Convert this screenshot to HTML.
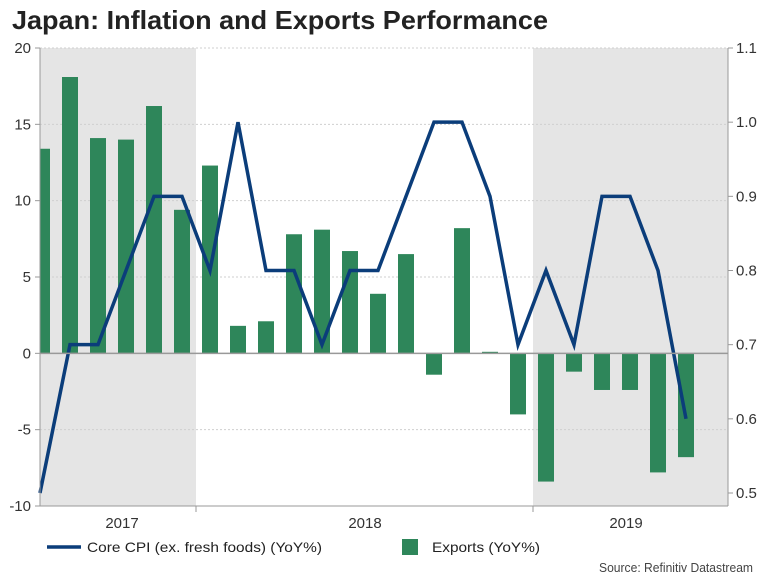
<!DOCTYPE html>
<html><head><meta charset="utf-8"><style>
body{margin:0;background:#fff;font-family:"Liberation Sans",sans-serif;}
#c{position:relative;width:768px;height:576px;overflow:hidden;}
</style></head><body>
<div id="c">
<svg id="s" width="768" height="576" xmlns="http://www.w3.org/2000/svg">
<text x="12" y="29" font-size="26" font-weight="bold" fill="#222" textLength="536" lengthAdjust="spacingAndGlyphs">Japan: Inflation and Exports Performance</text>
<g id="bg"></g><g id="grid"></g><g id="bars"></g><g id="line"></g><g id="axes"></g>
<g>
<line x1="47" y1="547" x2="81" y2="547" stroke="#0b3d7a" stroke-width="3.5"/>
<text x="87" y="552" font-size="14" fill="#222" textLength="235" lengthAdjust="spacingAndGlyphs">Core CPI (ex. fresh foods) (YoY%)</text>
<rect x="402" y="539" width="16" height="16" fill="#2e865a"/>
<text x="432" y="552" font-size="14" fill="#222" textLength="108" lengthAdjust="spacingAndGlyphs">Exports (YoY%)</text>
</g>
<text x="599" y="572" font-size="13" fill="#444" textLength="154" lengthAdjust="spacingAndGlyphs">Source: Refinitiv Datastream</text>
</svg></div>
<script>
const exportsVals=[13.4,18.1,14.1,14.0,16.2,9.4,12.3,1.8,2.1,7.8,8.1,6.7,3.9,6.5,-1.4,8.2,0.1,-4.0,-8.4,-1.2,-2.4,-2.4,-7.8,-6.8];
const cpiVals=[0.5,0.7,0.7,0.8,0.9,0.9,0.8,1.0,0.8,0.8,0.7,0.8,0.8,0.9,1.0,1.0,0.9,0.7,0.8,0.7,0.9,0.9,0.8,0.6];
const leftTicks=[20,15,10,5,0,-5,-10];
const rightTicks=[1.1,1.0,0.9,0.8,0.7,0.6,0.5];
const yearLabels=["2017","2018","2019"];
const NS="http://www.w3.org/2000/svg";
const L=40,R=728,T=48,B=506;
const xAt=i=>42+i*28;
const yL=v=>T+(20-v)*(B-T)/30;
const yR=v=>T+(1.1-v)*(493-T)/0.6;
function mk(tag,attrs,parent){const e=document.createElementNS(NS,tag);for(const k in attrs)e.setAttribute(k,attrs[k]);document.getElementById(parent).appendChild(e);return e;}
let e=mk('rect',{x:L,y:T,width:196-L,height:B-T,fill:'#e5e5e5'},'bg');


e=mk('rect',{x:533,y:T,width:R-533,height:B-T,fill:'#e5e5e5'},'bg');


leftTicks.forEach(t=>{
 const y=yL(t);
 if(t!==0&&t!==-10){const g=mk('line',{x1:L,x2:R,y1:y,y2:y,stroke:'#cfcfcf','stroke-dasharray':'2,2','stroke-width':1},'grid');
 
 }
 const tx=mk('text',{x:31,y:y+5,'font-size':15,fill:'#333','text-anchor':'end'},'axes');tx.textContent=t;
 
 
});
const cp=document.createElementNS(NS,'clipPath');cp.setAttribute('id','cl');
const cr=document.createElementNS(NS,'rect');cr.setAttribute('x',L);cr.setAttribute('y',0);cr.setAttribute('width',R-L);cr.setAttribute('height',576);cp.appendChild(cr);
document.getElementById('s').appendChild(cp);
document.getElementById('bars').setAttribute('clip-path','url(#cl)');
exportsVals.forEach((v,i)=>{
 const y0=yL(0),y1=yL(v);
 const r=mk('rect',{x:xAt(i)-8,y:Math.min(y0,y1),width:16,height:Math.max(1,Math.abs(y1-y0)),fill:'#2e865a'},'bars');
 
 
});
let z=mk('line',{x1:L,x2:R,y1:yL(0),y2:yL(0),stroke:'#999','stroke-width':1.5},'axes');


const pts=cpiVals.map((v,i)=>(i===0?L:xAt(i))+','+yR(v)).join(' ');
const pl=mk('polyline',{points:pts,fill:'none',stroke:'#0b3d7a','stroke-width':3.5,'stroke-linejoin':'miter'},'line');


rightTicks.forEach(t=>{
 const y=yR(t);
 mk('line',{x1:R,x2:R+5,y1:y,y2:y,stroke:'#999'},'axes');
 const tx=mk('text',{x:R+8,y:y+5,'font-size':15,fill:'#333'},'axes');tx.textContent=t.toFixed(1);
 
 
});
mk('line',{x1:L,x2:L,y1:T,y2:B,stroke:'#999'},'axes');
mk('line',{x1:R,x2:R,y1:T,y2:B,stroke:'#999'},'axes');
mk('line',{x1:L,x2:R,y1:B,y2:B,stroke:'#999'},'axes');
leftTicks.forEach(t=>mk('line',{x1:L-5,x2:L,y1:yL(t),y2:yL(t),stroke:'#999'},'axes'));
[196,533].forEach(x=>mk('line',{x1:x,x2:x,y1:B,y2:B+6,stroke:'#999'},'axes'));
const yx=[122,365,626];
yearLabels.forEach((s,i)=>{const tx=mk('text',{x:yx[i],y:528,'font-size':15,fill:'#333','text-anchor':'middle'},'axes');tx.textContent=s;
 
 });
</script>
</body></html>
